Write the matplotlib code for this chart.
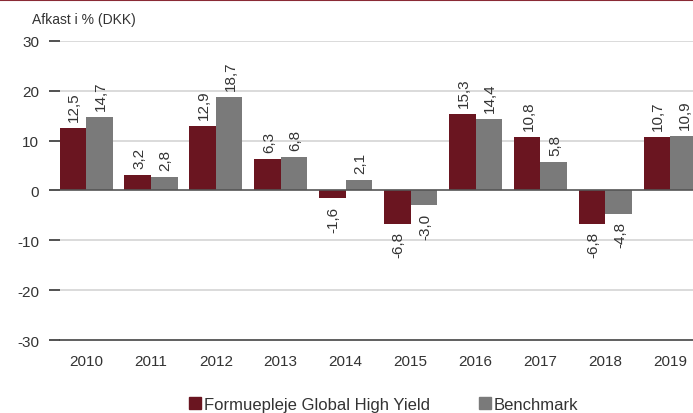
import matplotlib.pyplot as plt
import numpy as np
from matplotlib.lines import Line2D

plt.rcParams['font.family'] = ['Liberation Sans', 'DejaVu Sans']
plt.rcParams['axes.unicode_minus'] = False

# Data
years = ["2010", "2011", "2012", "2013", "2014", "2015", "2016", "2017", "2018", "2019"]
fund = [12.5, 3.2, 12.9, 6.3, -1.6, -6.8, 15.3, 10.8, -6.8, 10.7]
bench = [14.7, 2.8, 18.7, 6.8, 2.1, -3.0, 14.4, 5.8, -4.8, 10.9]
series_names = ["Formuepleje Global High Yield", "Benchmark"]
yticks = [-30, -20, -10, 0, 10, 20, 30]

red = "#6a1520"
grey = "#7a7a7a"
txt = "#333333"

fig = plt.figure(figsize=(6.93, 4.14), dpi=100)
ax = fig.add_axes([0.0866, 0.1763, 0.9134, 0.7223])

x = np.arange(len(years))
w = 0.41
b1 = ax.bar(x - w / 2, fund, width=w, color=red, zorder=3)
b2 = ax.bar(x + w / 2, bench, width=w, color=grey, zorder=3)

# value labels, rotated, comma decimal
for bars, vals in ((b1, fund), (b2, bench)):
    for bar, v in zip(bars, vals):
        lab = f"{v:.1f}".replace(".", ",")
        cx = bar.get_x() + bar.get_width() / 2
        if v >= 0:
            ax.annotate(lab, (cx, v), xytext=(1, 5), textcoords="offset points",
                        rotation=90, ha="center", va="bottom", fontsize=11, color=txt)
        else:
            ax.annotate(lab, (cx, v), xytext=(1, -5), textcoords="offset points",
                        rotation=90, ha="center", va="top", fontsize=11, color=txt)

ax.set_xlim(-0.40, 9.35)
ax.set_ylim(-30, 30)
ax.set_yticks(yticks)
ax.set_xticks(x)
ax.set_xticklabels(years)

for y in yticks:
    if y in (0, -30):
        continue
    ax.axhline(y, color="#d4d4d4", lw=1.2, zorder=1)
ax.axhline(0, color="#555555", lw=1.2, zorder=4)

for s in ("top", "right", "left"):
    ax.spines[s].set_visible(False)
ax.spines["bottom"].set_color("#444444")
ax.spines["bottom"].set_linewidth(1.2)

ax.tick_params(axis="y", length=8, width=1.2, color="#333333", pad=7,
               labelsize=11, labelcolor=txt)
ax.tick_params(axis="x", length=0, pad=10, labelsize=11, labelcolor=txt)

fig.text(32 / 693, 1 - 20 / 414, "Afkast i % (DKK)", fontsize=10, color=txt,
         ha="left", va="center")

# top rule
fig.add_artist(Line2D([0, 1], [0.998, 0.998], color="#8a2a35", lw=1.5,
                      transform=fig.transFigure))

handles = [Line2D([], [], marker="s", ls="", color=red, markersize=9),
           Line2D([], [], marker="s", ls="", color=grey, markersize=9)]
fig.legend(handles, series_names, loc="center", bbox_to_anchor=(0.552, 0.02),
           ncol=2, frameon=False, fontsize=12, handletextpad=0.05,
           columnspacing=2.8, handlelength=1.0, labelcolor=txt)

fig.savefig("out.png", dpi=100)
